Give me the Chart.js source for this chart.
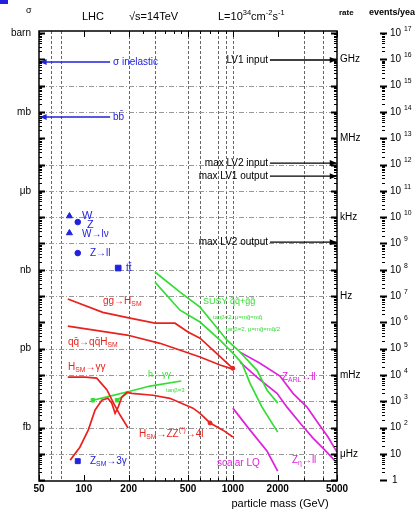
<!DOCTYPE html>
<html>
<head>
<meta charset="utf-8">
<script src="https://cdn.jsdelivr.net/npm/chart.js@4"></script>
<style>
  body { margin: 0; background: #fff; }
  canvas { display: block; }
</style>
</head>
<body>
<canvas id="lhcChart" width="415" height="511"></canvas>
<script>
// axis values
const massTicks = [50, 100, 200, 500, 1000, 2000, 5000];
const gridMass = [60, 70, 200, 300, 500, 600, 800, 900, 1000, 3000, 4000];
const gridDecades = [-2, -3, -5, -6, -7, -8, -9, -10, -12, -13, -14, -15, -16];
const unitNames = ['barn', 'mb', 'μb', 'nb', 'pb', 'fb'];
const unitExps = [0, -3, -6, -9, -12, -15];
const rateNames = ['GHz', 'MHz', 'kHz', 'Hz', 'mHz', 'μHz'];
const rateExps = [-1, -4, -7, -10, -13, -16];
const eventExps = [17, 16, 15, 14, 13, 12, 11, 10, 9, 8, 7, 6, 5, 4, 3, 2, 1, 0];

// cross sections in barn vs particle mass in GeV
const ggHMass = [78, 134, 204, 300, 409, 500, 602, 736, 1000];
const ggHSigma = [7.7e-11, 2.4e-11, 1.45e-11, 9.3e-12, 9.3e-12, 4.3e-12, 2.5e-12, 8.9e-13, 1.8e-13];
const qqHMass = [78, 195, 324, 602, 820, 1000];
const qqHSigma = [7.2e-12, 3.3e-12, 1.6e-12, 4.8e-13, 2.4e-13, 1.67e-13];
const hggMass = [78, 102, 122, 134, 143, 157, 175, 198];
const hggSigma = [8.3e-14, 8.3e-14, 7.6e-14, 4.1e-14, 2.7e-14, 9.3e-15, 3.0e-15, 9.6e-16];
const hzzMass = [81, 94, 107, 119, 132, 145, 154, 162, 170, 180, 195, 210, 291, 378, 540, 602, 703, 859, 1000];
const hzzSigma = [5.8e-17, 1.8e-16, 8.0e-16, 4.7e-15, 1.1e-14, 1.3e-14, 8.5e-15, 3.5e-15, 6.0e-15, 1.45e-14, 2.2e-14, 2.0e-14, 1.7e-14, 1.3e-14, 5.5e-15, 3.5e-15, 1.5e-15, 8.0e-16, 4.4e-16];
const susyHggMass = [115, 150, 204, 278, 450];
const susyHggSigma = [1.1e-14, 1.58e-14, 2.4e-14, 3.8e-14, 5.9e-14];
const susyHgg2Mass = [167, 200];
const susyHgg2Sigma = [1.1e-14, 2.2e-14];
const susyAMass = [300, 442, 602, 736, 913, 1083, 1453, 1694, 2000];
const susyASigma = [8.2e-10, 1.42e-10, 3.8e-11, 9.4e-12, 2.1e-12, 8.9e-13, 1.5e-13, 2.7e-14, 8.5e-15];
const susyBMass = [300, 442, 602, 820, 1000, 1151, 1302, 1569, 2000];
const susyBSigma = [3.4e-10, 2.9e-11, 1.03e-11, 2.1e-12, 6.8e-13, 2.8e-13, 4.9e-14, 6.0e-15, 6.7e-16];
const zarlMass = [1117, 1521, 2071, 2533, 3145, 3729, 4350, 5000];
const zarlSigma = [7.4e-13, 2.8e-13, 9.1e-14, 2.0e-14, 6.0e-15, 1.5e-15, 4.4e-16, 1.17e-16];
const zetaMass = [1117, 1475, 1978, 2309, 2823, 3451, 4150, 5000];
const zetaSigma = [3.1e-13, 7.6e-14, 2.0e-14, 6.0e-15, 1.5e-15, 4.0e-16, 1.4e-16, 4.5e-17];
const lqMass = [1000, 1304, 1694, 2000];
const lqSigma = [5.5e-15, 8.0e-16, 1.28e-16, 2.2e-17];

// standard model points
const wMass = [80, 80];
const wSigma = [1.1e-7, 2.5e-8];
const zMass = [91, 91];
const zSigma = [6.5e-8, 4.3e-9];
const topMass = [170];
const topSigma = [1.16e-9];
const z3gMass = [91];
const z3gSigma = [5.3e-17];

// rate lines (arrows)
const inelSigma = 7.9e-2;
const bbSigma = 6.4e-4;
const lv1InSigma = 9.4e-2;
const lv2InSigma = 1.14e-5;
const lv1OutSigma = 3.6e-6;
const lv2OutSigma = 1.12e-8;
const arrowLeftMass = [150, 50.5];
const arrowRightMass = [1774, 4980];

const RED = '#e8231f', GREEN = '#33dd33', MAG = '#dd22dd', BLUE = '#2222dd';
const FONT = '"Liberation Sans", Arial, sans-serif';

function pts(mass, sigma) {
    return mass.map((m, i) => ({ x: m, y: sigma[i] }));
}
function curve(mass, sigma, color) {
    return { data: pts(mass, sigma), showLine: true, borderColor: color, borderWidth: 1.7, pointRadius: 0 };
}
function arrow(mass, sigma, color) {
    return { data: pts(mass, [sigma, sigma]), showLine: true, borderColor: color, backgroundColor: color,
        borderWidth: 1.3, pointRadius: 0, isArrow: true };
}
function marks(mass, sigma, color, style, r) {
    return { data: pts(mass, sigma), showLine: false, pointStyle: style, pointRadius: r,
        backgroundColor: color, borderColor: color, borderWidth: 1 };
}

// text with _sub and ^sup parts
function rich(ctx, x, y, parts, color, size, align, weight) {
    ctx.fillStyle = color;
    ctx.textBaseline = 'middle';
    const w = weight ? weight + ' ' : '';
    const segs = parts.map(p => {
        let s = p, dy = 0, fs = size;
        if (p[0] === '_') { s = p.slice(1); dy = size * 0.35; fs = size * 0.68; }
        else if (p[0] === '^') { s = p.slice(1); dy = -size * 0.4; fs = size * 0.68; }
        ctx.font = w + fs + 'px ' + FONT;
        return { s, dy, fs, w: ctx.measureText(s).width };
    });
    let cx = x;
    if (align === 'right') cx = x - segs.reduce((a, b) => a + b.w, 0);
    if (align === 'center') cx = x - segs.reduce((a, b) => a + b.w, 0) / 2;
    ctx.textAlign = 'left';
    segs.forEach(g => {
        ctx.font = w + g.fs + 'px ' + FONT;
        ctx.fillText(g.s, cx, y + g.dy);
        cx += g.w;
    });
}

const decorations = {
    id: 'decorations',
    beforeDatasetsDraw(chart) {
        const { ctx, chartArea: a, scales: { x, y } } = chart;
        ctx.save();
        ctx.lineWidth = 1;
        ctx.strokeStyle = '#666';
        ctx.setLineDash([3, 2]);
        gridMass.forEach(m => {
            const px = Math.round(x.getPixelForValue(m)) + 0.5;
            ctx.beginPath(); ctx.moveTo(px, a.top); ctx.lineTo(px, a.bottom); ctx.stroke();
        });
        ctx.strokeStyle = '#999';
        ctx.setLineDash([5, 2, 1, 2]);
        gridDecades.forEach(d => {
            const py = Math.round(y.getPixelForValue(Math.pow(10, d))) + 0.5;
            ctx.beginPath(); ctx.moveTo(a.left, py); ctx.lineTo(a.right, py); ctx.stroke();
        });
        ctx.restore();
    },
    afterDatasetsDraw(chart) {
        // arrowheads at the end point of every arrow dataset
        const ctx = chart.ctx;
        ctx.save();
        chart.data.datasets.forEach((ds, i) => {
            if (!ds.isArrow) return;
            const el = chart.getDatasetMeta(i).data;
            const p0 = el[0], p1 = el[1];
            const dir = p1.x > p0.x ? 1 : -1;
            ctx.fillStyle = ds.borderColor;
            ctx.beginPath();
            ctx.moveTo(p1.x, p1.y);
            ctx.lineTo(p1.x - dir * 7, p1.y - 3);
            ctx.lineTo(p1.x - dir * 7, p1.y + 3);
            ctx.closePath();
            ctx.fill();
        });
        ctx.restore();
    },
    afterDraw(chart) {
        const { ctx, chartArea: a, scales: { x, y } } = chart;
        ctx.save();
        ctx.setLineDash([]);
        ctx.strokeStyle = '#000';
        ctx.lineWidth = 1.5;
        ctx.strokeRect(a.left, a.top, a.right - a.left, a.bottom - a.top);

        // y ticks on frame and on the events column
        const evX = 383;
        for (let d = -18; d <= 0; d++) {
            for (let k = 1; k <= 9; k++) {
                const v = k * Math.pow(10, d);
                if (v < y.min || v > y.max) continue;
                const py = Math.round(y.getPixelForValue(v)) + 0.5;
                const len = k === 1 ? 6 : 3;
                ctx.lineWidth = k === 1 ? 2 : 1;
                ctx.beginPath();
                ctx.moveTo(a.left, py); ctx.lineTo(a.left + len, py);
                ctx.moveTo(a.right, py); ctx.lineTo(a.right - len, py);
                ctx.moveTo(evX - (k === 1 ? 3 : 1), py); ctx.lineTo(evX + (k === 1 ? 4 : 2), py);
                ctx.stroke();
            }
        }
        // x ticks
        ctx.lineWidth = 1;
        [50, 100, 1000].forEach(base => {
            for (let k = 1; k <= 9; k++) {
                const m = base * k;
                if (m < 50 || m > 5000) continue;
                const px = Math.round(x.getPixelForValue(m)) + 0.5;
                const len = massTicks.includes(m) ? 6 : 3;
                ctx.beginPath();
                ctx.moveTo(px, a.bottom); ctx.lineTo(px, a.bottom - len);
                ctx.moveTo(px, a.top); ctx.lineTo(px, a.top + len);
                ctx.stroke();
            }
        });

        // axis labels
        ctx.fillStyle = '#000';
        ctx.textBaseline = 'middle';
        ctx.font = 'bold 10px ' + FONT;
        ctx.textAlign = 'center';
        massTicks.forEach(m => ctx.fillText(String(m), x.getPixelForValue(m), a.bottom + 8));
        ctx.font = '11px ' + FONT;
        ctx.fillText('particle mass (GeV)', 280, 504);

        ctx.font = '10px ' + FONT;
        ctx.textAlign = 'right';
        unitNames.forEach((u, i) => ctx.fillText(u, 31, y.getPixelForValue(Math.pow(10, unitExps[i]))));
        ctx.textAlign = 'left';
        rateNames.forEach((r, i) => ctx.fillText(r, 340, y.getPixelForValue(Math.pow(10, rateExps[i]))));
        eventExps.forEach(n => {
            const py = y.getPixelForValue(Math.pow(10, n - 17));
            if (n === 0) rich(ctx, 392, py, ['1'], '#000', 10);
            else if (n === 1) rich(ctx, 390, py, ['10'], '#000', 10);
            else rich(ctx, 390, py, ['10 ', '^' + n], '#000', 10);
        });

        // header
        rich(ctx, 26, 11, ['σ'], '#000', 9);
        rich(ctx, 82, 17, ['LHC'], '#000', 11);
        rich(ctx, 129, 17, ['√s=14TeV'], '#000', 11);
        rich(ctx, 218, 17, ['L=10', '^34', 'cm', '^-2', 's', '^-1'], '#000', 11);
        rich(ctx, 339, 13, ['rate'], '#000', 8, null, 'bold');
        rich(ctx, 369, 13, ['events/year'], '#000', 9, null, 'bold');
        ctx.fillStyle = BLUE;
        ctx.fillRect(0, 0, 8, 4);

        // arrow labels
        rich(ctx, 113, 62, ['σ inelastic'], BLUE, 10);
        rich(ctx, 113, 117, ['bb\u0304'], BLUE, 10);
        rich(ctx, 268, 60, ['LV1 input'], '#000', 10, 'right');
        rich(ctx, 268, 163, ['max LV2 input'], '#000', 10, 'right');
        rich(ctx, 268, 176, ['max LV1 output'], '#000', 10, 'right');
        rich(ctx, 268, 242, ['max LV2 output'], '#000', 10, 'right');

        // SM points labels
        rich(ctx, 82, 216, ['W'], BLUE, 11);
        rich(ctx, 87, 225, ['Z'], BLUE, 11);
        rich(ctx, 82, 234, ['W→lν'], BLUE, 10);
        rich(ctx, 90, 253, ['Z→ll'], BLUE, 10);
        rich(ctx, 126, 268, ['tt\u0304'], BLUE, 10);
        rich(ctx, 90, 461, ['Z', '_SM', '→3γ'], BLUE, 10);

        // physics curve labels
        rich(ctx, 103, 301, ['gg→H', '_SM'], RED, 10);
        rich(ctx, 68, 342, ['qq\u0304→qq\u0304H', '_SM'], RED, 10);
        rich(ctx, 68, 367, ['H', '_SM', '→γγ'], RED, 10);
        rich(ctx, 139, 434, ['H', '_SM', '→ZZ', '^(*)', '→4l'], RED, 10);
        rich(ctx, 148, 375, ['h→γγ'], GREEN, 9);
        rich(ctx, 166, 390, ['tanβ=3'], GREEN, 6);
        rich(ctx, 203, 302, ['SUSY q\u0303q\u0303+g\u0303g\u0303'], GREEN, 9);
        rich(ctx, 213, 317, ['tanβ=2, μ=mg\u0303=mq\u0303'], GREEN, 6);
        rich(ctx, 226, 329, ['tanβ=2, μ=mg\u0303=mq\u0303/2'], GREEN, 6);
        rich(ctx, 282, 377, ['Z', '_ARL', '→ll'], MAG, 10);
        rich(ctx, 292, 460, ['Z', '_η', '→ll'], MAG, 10);
        rich(ctx, 217, 463, ['scalar LQ'], MAG, 10);
        ctx.restore();
    }
};

new Chart(document.getElementById('lhcChart'), {
    type: 'scatter',
    data: {
        datasets: [
            arrow(arrowLeftMass, inelSigma, BLUE),
            arrow(arrowLeftMass, bbSigma, BLUE),
            arrow(arrowRightMass, lv1InSigma, '#000'),
            arrow(arrowRightMass, lv2InSigma, '#000'),
            arrow(arrowRightMass, lv1OutSigma, '#000'),
            arrow(arrowRightMass, lv2OutSigma, '#000'),
            curve(ggHMass, ggHSigma, RED),
            curve(qqHMass, qqHSigma, RED),
            curve(hggMass, hggSigma, RED),
            curve(hzzMass, hzzSigma, RED),
            curve(susyHggMass, susyHggSigma, GREEN),
            curve(susyHgg2Mass, susyHgg2Sigma, GREEN),
            curve(susyAMass, susyASigma, GREEN),
            curve(susyBMass, susyBSigma, GREEN),
            curve(zarlMass, zarlSigma, MAG),
            curve(zetaMass, zetaSigma, MAG),
            curve(lqMass, lqSigma, MAG),
            marks(wMass, wSigma, BLUE, 'triangle', 3.5),
            marks(zMass, zSigma, BLUE, 'circle', 2.8),
            marks(topMass, topSigma, BLUE, 'rect', 4),
            marks(z3gMass, z3gSigma, BLUE, 'rect', 3.5),
            marks([ggHMass[8], hzzMass[16]], [ggHSigma[8], hzzSigma[16]], RED, 'circle', 2),
            marks([susyHggMass[0], susyHgg2Mass[0]], [susyHggSigma[0], susyHgg2Sigma[0]], GREEN, 'rect', 2.5)
        ]
    },
    options: {
        responsive: false,
        animation: false,
        devicePixelRatio: 1,
        layout: { padding: { left: 39, right: 78, top: 31, bottom: 30 } },
        plugins: { legend: { display: false }, tooltip: { enabled: false } },
        scales: {
            x: { type: 'logarithmic', min: 50, max: 5000, display: false },
            y: { type: 'logarithmic', min: Math.pow(10, -17.03), max: Math.pow(10, 0.076), display: false }
        }
    },
    plugins: [decorations]
});
</script>
</body>
</html>
